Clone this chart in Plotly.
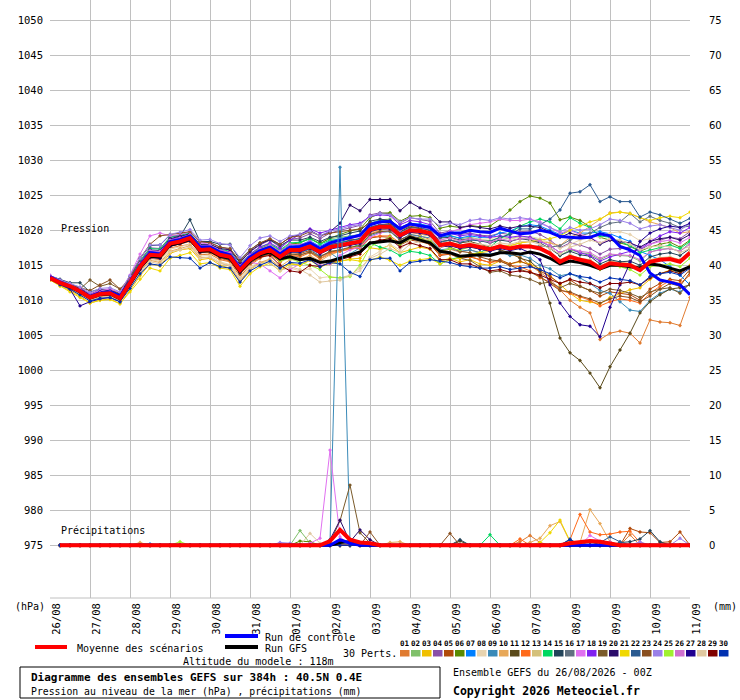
import plotly.graph_objects as go

# forecast hours, 6-hourly from 26/08 00Z out to 384h
hours = list(range(0, 385, 6))
precip_hours = hours[1:]

day_labels = ["26/08", "27/08", "28/08", "29/08", "30/08", "31/08", "01/09", "02/09",
              "03/09", "04/09", "05/09", "06/09", "07/09", "08/09", "09/09", "10/09", "11/09"]

pert_colors = ["#e07b30", "#7fc06a", "#f0c000", "#8a4fa8", "#b04a0a", "#5a8a00", "#0080ff",
               "#e8d4b0", "#3a8ab8", "#e8a858", "#5a4a1a", "#ff6a1a", "#d4c07a", "#00d860",
               "#22445a", "#607080", "#e070f0", "#8020f0", "#7a5a2a", "#2a0a6a", "#f0d800",
               "#2a5a90", "#8a5020", "#9a80e8", "#a0f030", "#d070d0", "#200090", "#e0c8a0",
               "#800000", "#0030b0"]

# sea level pressure (hPa)
mean_p = [1013.2, 1012.5, 1012.0, 1011.3, 1010.4, 1010.9, 1011.0, 1010.3, 1012.5, 1014.8, 1016.5, 1016.4, 1018.1, 1018.4, 1018.9, 1017.2,
          1017.3, 1016.5, 1016.2, 1014.3, 1015.8, 1016.7, 1017.2, 1016.2, 1017.2, 1017.2, 1017.7, 1016.9, 1017.6, 1017.9, 1018.2, 1018.4,
          1020.1, 1020.5, 1020.5, 1019.3, 1020.0, 1019.9, 1019.6, 1017.9, 1018.1, 1017.7, 1017.9, 1017.6, 1017.3, 1017.7, 1017.4, 1017.7,
          1017.7, 1017.4, 1016.7, 1015.5, 1016.2, 1015.8, 1015.5, 1014.6, 1015.3, 1015.1, 1015.0, 1014.3, 1015.5, 1015.8, 1015.9, 1015.5,
          1016.8]
control_p = [1013.4, 1012.6, 1012.0, 1011.4, 1010.5, 1011.0, 1011.2, 1010.6, 1012.7, 1015.0, 1016.8, 1016.6, 1018.4, 1018.7, 1019.2, 1017.6,
             1017.6, 1016.9, 1016.5, 1014.6, 1016.2, 1017.1, 1017.6, 1016.6, 1017.6, 1017.7, 1018.2, 1017.4, 1018.2, 1018.6, 1019.0, 1019.3,
             1020.8, 1021.2, 1021.3, 1020.2, 1020.9, 1020.6, 1020.4, 1019.2, 1019.6, 1019.6, 1020.0, 1019.8, 1019.7, 1020.3, 1019.9, 1019.5,
             1019.6, 1020.0, 1019.7, 1019.1, 1019.0, 1018.9, 1019.0, 1019.5, 1019.2, 1017.7, 1017.2, 1016.4, 1013.9, 1012.9, 1012.6, 1012.2,
             1010.8]
gfs_p = [1013.3, 1012.5, 1011.9, 1011.2, 1010.3, 1010.8, 1010.9, 1010.2, 1012.3, 1014.6, 1016.3, 1016.2, 1017.9, 1018.2, 1018.7, 1017.0,
         1017.1, 1016.3, 1016.0, 1014.1, 1015.6, 1016.5, 1016.9, 1015.9, 1016.2, 1015.8, 1016.0, 1015.4, 1015.6, 1016.0, 1016.4, 1016.9,
         1018.2, 1018.3, 1018.5, 1018.2, 1019.0, 1018.6, 1018.2, 1017.0, 1016.8, 1016.3, 1016.4, 1016.5, 1016.4, 1016.8, 1016.8, 1016.6,
         1016.9, 1016.6, 1016.0, 1015.2, 1015.6, 1015.4, 1015.0, 1014.5, 1015.0, 1015.0, 1014.8, 1014.6, 1015.2, 1015.0, 1014.6, 1014.2,
         1014.8]

p01 = [1013.0, 1012.3, 1011.6, 1010.8, 1010.0, 1010.6, 1010.8, 1010.1, 1012.0, 1014.3, 1016.0, 1015.8, 1017.5, 1017.8, 1018.0, 1016.5,
       1016.6, 1015.8, 1015.5, 1013.4, 1015.0, 1016.0, 1016.6, 1015.4, 1016.4, 1016.2, 1016.8, 1015.9, 1016.6, 1017.0, 1017.3, 1017.6,
       1019.5, 1020.0, 1020.4, 1018.6, 1019.4, 1019.2, 1018.7, 1017.0, 1017.3, 1016.9, 1017.2, 1016.8, 1016.5, 1016.9, 1016.5, 1016.2,
       1015.0, 1014.0, 1013.0, 1011.5, 1010.0, 1009.0, 1008.2, 1004.4, 1005.3, 1005.6, 1005.3, 1003.9, 1007.2, 1006.9, 1006.8, 1006.4,
       1010.4]
p02 = [1013.4, 1012.8, 1012.3, 1011.6, 1010.7, 1011.2, 1011.4, 1010.7, 1013.0, 1015.4, 1017.1, 1017.0, 1018.7, 1019.0, 1019.5, 1017.9,
       1017.9, 1017.2, 1016.9, 1015.0, 1016.5, 1017.4, 1018.0, 1017.1, 1018.0, 1018.3, 1018.9, 1018.1, 1018.8, 1019.0, 1019.2, 1019.4,
       1021.0, 1021.5, 1021.6, 1020.2, 1021.0, 1020.8, 1020.6, 1019.0, 1019.3, 1018.8, 1019.0, 1018.7, 1018.5, 1019.0, 1018.8, 1019.1,
       1019.0, 1018.6, 1017.6, 1016.4, 1017.2, 1016.8, 1016.6, 1015.8, 1016.5, 1016.4, 1016.3, 1015.6, 1016.9, 1017.3, 1017.4, 1017.0,
       1018.2]
p03 = [1012.9, 1012.1, 1011.4, 1010.6, 1009.6, 1010.0, 1010.2, 1009.5, 1011.4, 1013.5, 1015.2, 1014.9, 1016.7, 1017.2, 1017.4, 1015.8,
       1016.0, 1015.0, 1014.6, 1012.6, 1014.4, 1015.3, 1015.7, 1014.6, 1015.3, 1015.0, 1015.8, 1014.8, 1015.2, 1015.6, 1015.9, 1016.0,
       1017.5, 1017.3, 1017.9, 1016.8, 1017.2, 1017.6, 1017.3, 1015.6, 1016.0, 1015.5, 1015.8, 1015.2, 1015.0, 1015.6, 1015.2, 1015.5,
       1015.2, 1014.5, 1013.5, 1012.2, 1011.0, 1010.0, 1009.8, 1009.5, 1010.4, 1011.0, 1011.5, 1011.8, 1013.0, 1013.8, 1014.3, 1014.0,
       1015.0]
p04 = [1013.5, 1012.9, 1012.4, 1011.8, 1010.9, 1011.5, 1011.6, 1011.0, 1013.2, 1015.7, 1017.5, 1017.4, 1019.0, 1019.4, 1019.8, 1018.3,
       1018.3, 1017.6, 1017.3, 1015.4, 1016.9, 1017.9, 1018.6, 1017.6, 1018.7, 1018.9, 1019.5, 1018.8, 1019.6, 1020.0, 1020.4, 1020.7,
       1022.2, 1022.5, 1022.4, 1021.0, 1021.8, 1021.6, 1021.3, 1019.6, 1019.9, 1019.4, 1019.6, 1019.3, 1019.2, 1019.6, 1019.4, 1019.8,
       1019.9, 1019.4, 1018.6, 1017.5, 1018.2, 1017.9, 1017.4, 1016.6, 1017.3, 1017.4, 1017.6, 1017.2, 1018.0, 1018.6, 1019.0, 1018.8,
       1019.8]
p05 = [1013.1, 1012.4, 1011.9, 1011.1, 1010.2, 1010.7, 1010.9, 1010.4, 1012.2, 1014.5, 1016.2, 1016.0, 1017.8, 1018.0, 1018.5, 1016.9,
       1016.9, 1016.1, 1015.8, 1014.0, 1015.6, 1016.4, 1016.9, 1015.8, 1016.8, 1016.7, 1017.1, 1016.3, 1016.9, 1017.1, 1017.5, 1017.4,
       1018.9, 1019.1, 1019.0, 1017.9, 1018.6, 1018.4, 1018.0, 1016.4, 1016.6, 1016.0, 1016.2, 1015.8, 1015.4, 1015.8, 1015.2, 1015.6,
       1015.0, 1014.2, 1013.4, 1012.4, 1012.9, 1012.0, 1011.4, 1010.6, 1011.2, 1011.0, 1010.8, 1010.0, 1011.6, 1012.4, 1013.0, 1012.8,
       1014.4]
p06 = [1013.3, 1012.6, 1012.1, 1011.4, 1010.5, 1011.0, 1011.2, 1010.6, 1012.8, 1015.1, 1016.9, 1016.7, 1018.5, 1018.8, 1019.3, 1017.6,
       1017.7, 1017.0, 1016.8, 1014.9, 1016.4, 1017.4, 1017.9, 1017.0, 1018.0, 1018.2, 1018.8, 1018.1, 1018.9, 1019.4, 1019.9, 1020.2,
       1021.8, 1022.4, 1022.5, 1021.3, 1022.0, 1022.1, 1021.8, 1020.3, 1020.6, 1020.4, 1020.7, 1020.5, 1020.6, 1021.6, 1022.9, 1024.1,
       1024.9, 1024.6, 1023.9, 1021.5, 1021.9, 1021.4, 1020.5, 1019.0, 1018.6, 1018.2, 1017.8, 1017.0, 1017.6, 1018.0, 1018.3, 1017.6,
       1018.6]
p07 = [1013.4, 1012.7, 1012.2, 1011.5, 1010.6, 1011.2, 1011.3, 1010.7, 1012.9, 1015.2, 1016.9, 1016.9, 1018.6, 1018.9, 1019.4, 1017.8,
       1017.8, 1017.1, 1016.8, 1014.8, 1016.3, 1017.3, 1017.8, 1016.9, 1017.9, 1017.9, 1018.5, 1017.7, 1018.5, 1018.8, 1019.1, 1019.4,
       1021.0, 1021.4, 1021.4, 1020.2, 1021.0, 1020.9, 1020.6, 1019.0, 1019.2, 1018.9, 1019.2, 1019.0, 1019.0, 1019.6, 1019.9, 1020.5,
       1020.8, 1020.6, 1020.0, 1019.4, 1020.0, 1019.6, 1019.6, 1019.8, 1019.5, 1019.0, 1018.4, 1017.0, 1016.4, 1015.8, 1014.8, 1013.6,
       1012.2]
p08 = [1013.1, 1012.4, 1011.8, 1011.0, 1010.1, 1010.6, 1010.7, 1010.0, 1012.1, 1014.2, 1015.8, 1015.6, 1017.3, 1017.6, 1018.0, 1016.3,
       1016.4, 1015.5, 1015.1, 1013.3, 1014.8, 1015.4, 1015.7, 1014.4, 1014.6, 1014.2, 1014.5, 1013.2, 1013.4, 1013.2, 1013.6, 1014.2,
       1016.2, 1017.0, 1018.0, 1017.2, 1018.6, 1019.0, 1019.4, 1018.0, 1018.6, 1018.5, 1018.8, 1018.7, 1018.8, 1019.2, 1018.8, 1019.0,
       1019.1, 1018.8, 1018.2, 1017.4, 1018.0, 1018.6, 1019.2, 1019.0, 1019.6, 1019.8, 1019.4, 1018.5, 1018.8, 1018.6, 1018.0, 1017.4,
       1017.6]
p09 = [1013.2, 1012.4, 1011.9, 1011.2, 1010.3, 1010.8, 1010.8, 1010.1, 1012.3, 1014.6, 1016.2, 1016.1, 1017.8, 1018.2, 1018.6, 1016.9,
       1017.0, 1016.2, 1015.8, 1013.9, 1015.4, 1016.3, 1016.8, 1015.8, 1016.9, 1016.8, 1017.3, 1016.3, 1016.8, 1015.8, 1016.6, 1017.5,
       1019.2, 1019.7, 1019.8, 1018.6, 1019.4, 1019.2, 1018.9, 1017.2, 1017.4, 1017.0, 1017.2, 1016.8, 1016.6, 1016.9, 1016.4, 1016.5,
       1016.0, 1015.0, 1014.5, 1013.5, 1013.8, 1013.2, 1012.4, 1011.4, 1011.0, 1009.8, 1008.6, 1008.4, 1010.0, 1011.0, 1011.6, 1011.2,
       1012.4]
p10 = [1013.0, 1012.3, 1011.7, 1010.9, 1010.0, 1010.5, 1010.6, 1009.9, 1011.9, 1014.1, 1015.7, 1015.4, 1017.0, 1017.4, 1017.8, 1016.1,
       1016.1, 1015.3, 1014.9, 1012.8, 1014.5, 1015.4, 1015.9, 1014.8, 1015.8, 1015.8, 1016.4, 1015.6, 1016.5, 1017.0, 1017.5, 1017.9,
       1019.7, 1020.1, 1020.2, 1019.0, 1019.7, 1019.4, 1019.2, 1017.6, 1017.8, 1017.5, 1017.8, 1017.6, 1017.4, 1017.9, 1017.8, 1018.2,
       1018.4, 1018.4, 1018.2, 1017.8, 1019.0, 1019.6, 1020.6, 1021.6, 1022.5, 1022.6, 1022.4, 1021.8, 1021.2, 1020.8, 1020.4, 1019.6,
       1019.8]
p11 = [1013.2, 1012.6, 1012.0, 1011.4, 1010.6, 1011.1, 1011.5, 1011.0, 1012.7, 1015.0, 1016.6, 1016.5, 1018.2, 1018.6, 1019.0, 1017.4,
       1017.5, 1016.8, 1016.4, 1014.6, 1016.0, 1017.0, 1017.5, 1016.6, 1017.5, 1017.6, 1018.1, 1017.3, 1018.0, 1018.2, 1018.6, 1018.8,
       1020.4, 1020.8, 1020.9, 1019.8, 1020.5, 1020.4, 1020.0, 1018.4, 1018.6, 1018.2, 1018.4, 1018.0, 1017.6, 1017.2, 1016.8, 1016.0,
       1015.6, 1014.3, 1009.6, 1004.6, 1002.5, 1001.4, 999.6, 997.5, 1000.5, 1002.9, 1005.3, 1008.2, 1009.8, 1010.8, 1011.6, 1011.8,
       1012.2]
p12 = [1013.1, 1012.3, 1011.8, 1011.1, 1010.2, 1010.6, 1010.8, 1010.2, 1012.3, 1014.5, 1016.2, 1016.0, 1017.7, 1018.0, 1018.4, 1016.8,
       1016.8, 1016.0, 1015.6, 1013.7, 1015.2, 1016.1, 1016.6, 1015.5, 1016.5, 1016.4, 1016.9, 1016.0, 1016.8, 1017.0, 1017.4, 1017.4,
       1019.0, 1019.2, 1019.2, 1018.2, 1018.9, 1018.6, 1018.2, 1016.5, 1016.7, 1016.2, 1016.3, 1015.8, 1015.4, 1015.6, 1015.0, 1014.8,
       1014.2, 1013.2, 1012.6, 1011.5, 1011.0, 1010.4, 1010.0, 1009.2, 1009.8, 1010.2, 1010.0, 1009.6, 1011.0, 1012.0, 1012.8, 1012.4,
       1013.6]
p13 = [1013.3, 1012.6, 1012.0, 1011.3, 1010.4, 1010.9, 1011.1, 1010.5, 1012.6, 1014.9, 1016.6, 1016.4, 1018.1, 1018.5, 1019.0, 1017.3,
       1017.4, 1016.6, 1016.3, 1014.4, 1015.9, 1016.8, 1017.3, 1016.4, 1017.4, 1017.4, 1017.9, 1017.1, 1017.8, 1018.0, 1018.3, 1018.6,
       1020.2, 1020.6, 1020.7, 1019.5, 1020.2, 1020.1, 1019.8, 1018.1, 1018.3, 1017.9, 1018.1, 1017.8, 1017.5, 1017.9, 1017.6, 1017.9,
       1017.9, 1017.6, 1016.9, 1015.8, 1016.5, 1016.0, 1015.8, 1014.9, 1015.6, 1015.4, 1015.3, 1014.6, 1015.8, 1016.1, 1016.2, 1015.8,
       1017.0]
p14 = [1013.4, 1012.8, 1012.3, 1011.6, 1010.8, 1011.3, 1011.4, 1010.8, 1013.1, 1015.6, 1017.4, 1017.3, 1019.0, 1019.3, 1019.6, 1018.0,
       1018.0, 1017.3, 1017.0, 1015.1, 1016.6, 1017.6, 1018.1, 1017.2, 1018.2, 1018.3, 1018.8, 1018.0, 1018.6, 1018.6, 1018.2, 1017.6,
       1018.2, 1017.6, 1017.2, 1016.4, 1017.0, 1016.8, 1016.4, 1015.2, 1015.8, 1016.2, 1016.6, 1016.8, 1017.6, 1018.8, 1019.6, 1020.6,
       1021.2, 1021.6, 1021.2, 1020.2, 1021.8, 1021.0, 1020.4, 1019.2, 1019.0, 1018.4, 1017.8, 1016.8, 1017.2, 1017.6, 1017.9, 1017.4,
       1018.4]
p15 = [1013.5, 1013.0, 1012.5, 1012.5, 1011.2, 1011.6, 1011.4, 1010.8, 1013.4, 1016.0, 1017.8, 1017.9, 1019.3, 1019.1, 1021.5, 1018.4,
       1018.4, 1018.0, 1018.0, 1015.8, 1017.2, 1018.2, 1018.6, 1017.8, 1018.6, 1018.6, 1019.0, 1018.4, 1019.0, 1019.2, 1019.6, 1019.9,
       1021.3, 1021.6, 1021.4, 1020.4, 1021.0, 1020.7, 1020.4, 1018.9, 1019.0, 1018.6, 1018.8, 1018.5, 1018.2, 1018.6, 1018.4, 1018.8,
       1018.6, 1018.2, 1017.4, 1016.4, 1017.0, 1016.5, 1016.3, 1015.2, 1015.8, 1015.5, 1015.6, 1015.0, 1016.2, 1016.6, 1016.8, 1016.4,
       1017.4]
p16 = [1013.2, 1012.5, 1012.0, 1011.2, 1010.3, 1010.8, 1010.9, 1010.3, 1012.4, 1014.7, 1016.4, 1016.3, 1018.0, 1018.3, 1018.8, 1017.1,
       1017.2, 1016.4, 1016.1, 1014.2, 1015.7, 1016.6, 1017.1, 1016.1, 1017.1, 1017.1, 1017.6, 1016.8, 1017.5, 1017.8, 1018.1, 1018.3,
       1020.0, 1020.4, 1020.4, 1019.2, 1019.9, 1019.8, 1019.5, 1017.8, 1018.0, 1017.6, 1017.8, 1017.5, 1017.2, 1017.6, 1017.3, 1017.6,
       1017.6, 1017.8, 1017.6, 1017.8, 1018.6, 1019.2, 1019.6, 1020.4, 1021.0, 1021.2, 1022.4, 1021.2, 1022.0, 1021.4, 1021.0, 1020.4,
       1020.6]
p17 = [1013.6, 1012.8, 1012.2, 1011.6, 1010.8, 1011.4, 1011.6, 1011.1, 1013.6, 1016.6, 1019.2, 1019.6, 1019.2, 1019.4, 1019.8, 1018.2,
       1018.0, 1017.2, 1016.8, 1014.8, 1015.4, 1015.2, 1014.2, 1013.2, 1014.4, 1015.2, 1015.8, 1015.0, 1015.2, 1016.4, 1017.2, 1017.6,
       1019.0, 1019.6, 1020.0, 1019.0, 1020.0, 1020.2, 1020.2, 1019.2, 1019.8, 1020.2, 1020.8, 1021.0, 1021.2, 1021.6, 1021.4, 1021.4,
       1021.6, 1021.2, 1020.4, 1019.6, 1020.0, 1019.4, 1019.0, 1018.2, 1018.6, 1018.4, 1018.2, 1017.6, 1018.0, 1018.4, 1018.6, 1018.2,
       1019.0]
p18 = [1013.3, 1012.7, 1012.1, 1011.6, 1010.8, 1011.3, 1011.3, 1010.6, 1012.9, 1015.2, 1017.0, 1016.9, 1018.7, 1019.0, 1019.3, 1017.7,
       1017.8, 1017.1, 1016.9, 1015.0, 1016.6, 1017.6, 1018.2, 1017.4, 1018.6, 1019.4, 1020.2, 1019.6, 1020.0, 1020.4, 1020.8, 1021.0,
       1022.0, 1022.2, 1022.1, 1020.8, 1021.4, 1021.2, 1020.8, 1019.4, 1019.6, 1019.2, 1019.4, 1019.2, 1019.0, 1019.2, 1019.0, 1019.2,
       1019.0, 1018.4, 1017.8, 1016.8, 1017.4, 1016.8, 1016.4, 1015.6, 1016.2, 1016.6, 1017.0, 1017.2, 1018.4, 1019.2, 1019.8, 1019.6,
       1020.4]
p19 = [1013.2, 1012.6, 1012.0, 1011.6, 1012.9, 1012.0, 1012.4, 1011.6, 1012.8, 1014.8, 1016.3, 1016.0, 1017.7, 1018.1, 1018.5, 1016.8,
       1016.9, 1016.1, 1015.7, 1013.8, 1015.3, 1016.2, 1016.7, 1015.8, 1016.6, 1016.5, 1016.9, 1016.2, 1017.0, 1017.2, 1017.6, 1017.8,
       1019.4, 1019.8, 1019.9, 1018.7, 1019.2, 1018.9, 1018.5, 1016.8, 1016.7, 1016.0, 1015.7, 1014.8, 1014.0, 1014.2, 1013.6, 1013.4,
       1013.0, 1012.4, 1012.6, 1011.8, 1012.4, 1012.0, 1011.4, 1011.0, 1011.6, 1011.4, 1011.0, 1010.4, 1011.2, 1011.6, 1011.8, 1011.0,
       1012.4]
p20 = [1013.4, 1012.8, 1012.3, 1011.7, 1010.7, 1011.2, 1011.4, 1010.8, 1013.0, 1015.4, 1017.2, 1017.1, 1018.8, 1019.1, 1019.5, 1017.9,
       1018.0, 1017.4, 1017.2, 1015.4, 1017.0, 1018.0, 1018.7, 1018.0, 1019.0, 1019.4, 1020.0, 1019.2, 1019.8, 1021.0, 1023.6, 1022.8,
       1024.4, 1024.4, 1024.4, 1022.8, 1024.0, 1023.2, 1022.6, 1021.2, 1021.2, 1020.4, 1020.6, 1020.4, 1020.2, 1020.6, 1020.3, 1020.6,
       1020.6, 1020.4, 1019.8, 1019.0, 1019.6, 1019.2, 1019.0, 1018.0, 1018.6, 1018.4, 1018.2, 1017.6, 1018.4, 1018.8, 1019.0, 1018.6,
       1019.4]
p21 = [1012.9, 1012.0, 1011.2, 1010.4, 1009.6, 1010.0, 1010.1, 1009.5, 1011.2, 1013.0, 1014.6, 1014.2, 1016.0, 1016.4, 1016.8, 1015.2,
       1015.4, 1014.6, 1014.4, 1012.0, 1013.8, 1014.8, 1015.3, 1014.2, 1015.2, 1015.0, 1015.7, 1014.8, 1015.4, 1015.6, 1015.8, 1015.6,
       1015.7, 1016.2, 1015.7, 1015.0, 1015.6, 1015.8, 1016.0, 1015.2, 1015.8, 1016.0, 1016.6, 1016.8, 1017.0, 1017.6, 1017.8, 1018.2,
       1018.4, 1018.6, 1018.8, 1019.2, 1020.0, 1020.6, 1021.2, 1021.6, 1022.4, 1022.6, 1022.4, 1021.8, 1021.4, 1021.8, 1022.0, 1021.8,
       1022.6]
p22 = [1013.3, 1012.6, 1012.1, 1011.4, 1010.6, 1011.1, 1011.2, 1010.5, 1012.7, 1015.0, 1016.7, 1016.6, 1018.3, 1018.6, 1019.1, 1017.4,
       1017.5, 1016.7, 1016.4, 1014.5, 1016.0, 1016.9, 1017.4, 1016.5, 1017.5, 1017.5, 1018.0, 1017.2, 1017.9, 1018.2, 1018.5, 1018.8,
       1020.5, 1020.8, 1020.9, 1019.7, 1020.4, 1020.3, 1020.0, 1018.3, 1018.6, 1018.3, 1018.6, 1018.5, 1018.4, 1019.0, 1019.4, 1020.2,
       1020.2, 1020.8, 1021.6, 1022.9, 1025.3, 1025.5, 1026.5, 1024.1, 1024.8, 1024.1, 1024.1, 1021.9, 1022.6, 1022.2, 1021.6, 1021.0,
       1021.7]
p23 = [1013.3, 1012.7, 1012.2, 1011.8, 1011.4, 1012.2, 1012.9, 1011.6, 1013.2, 1016.0, 1018.0, 1019.2, 1019.4, 1019.6, 1019.8, 1018.4,
       1018.2, 1017.6, 1017.4, 1015.6, 1017.2, 1018.2, 1018.8, 1018.0, 1019.0, 1019.2, 1019.8, 1019.2, 1019.6, 1019.8, 1020.0, 1020.2,
       1021.0, 1021.2, 1021.0, 1020.0, 1020.6, 1020.2, 1019.6, 1017.8, 1017.6, 1017.0, 1016.8, 1016.2, 1015.8, 1015.6, 1015.0, 1014.4,
       1014.0, 1013.4, 1012.4, 1011.4, 1011.2, 1010.6, 1010.2, 1009.6, 1010.2, 1010.6, 1010.4, 1009.8, 1010.6, 1011.6, 1012.4, 1012.0,
       1014.0]
p24 = [1013.5, 1012.9, 1012.4, 1011.9, 1011.1, 1011.7, 1011.8, 1011.2, 1013.5, 1016.0, 1017.9, 1017.9, 1019.4, 1019.7, 1020.1, 1018.6,
       1018.7, 1018.1, 1017.9, 1016.1, 1017.8, 1018.9, 1019.2, 1018.4, 1019.2, 1019.4, 1019.9, 1019.2, 1019.9, 1020.2, 1020.6, 1020.8,
       1022.0, 1022.4, 1022.2, 1021.2, 1021.8, 1021.6, 1021.6, 1020.6, 1021.0, 1020.8, 1021.4, 1021.6, 1021.4, 1021.8, 1021.6, 1021.8,
       1021.6, 1021.0, 1020.4, 1019.8, 1020.4, 1020.0, 1020.2, 1020.8, 1021.6, 1021.4, 1021.0, 1020.2, 1020.6, 1020.8, 1020.4, 1020.0,
       1021.0]
p25 = [1013.2, 1012.5, 1011.9, 1011.1, 1010.2, 1010.8, 1010.9, 1010.2, 1012.3, 1014.6, 1016.4, 1016.3, 1018.0, 1018.4, 1018.9, 1017.4,
       1017.6, 1016.8, 1016.5, 1014.6, 1016.0, 1016.6, 1016.8, 1015.6, 1016.0, 1015.4, 1015.0, 1014.4, 1013.3, 1013.2, 1013.4, 1015.0,
       1017.6, 1018.4, 1019.0, 1018.0, 1018.8, 1018.8, 1018.6, 1017.0, 1017.4, 1017.2, 1017.6, 1017.4, 1017.2, 1017.6, 1017.4, 1017.8,
       1017.8, 1017.4, 1016.6, 1015.4, 1016.2, 1015.6, 1015.2, 1014.4, 1015.0, 1014.8, 1014.4, 1013.6, 1014.8, 1015.0, 1015.2, 1014.8,
       1016.0]
p26 = [1013.4, 1012.7, 1012.2, 1011.5, 1010.6, 1011.1, 1011.3, 1010.7, 1012.9, 1015.3, 1017.1, 1017.0, 1018.6, 1018.9, 1019.4, 1017.8,
       1017.9, 1017.1, 1016.8, 1014.9, 1016.4, 1017.3, 1017.9, 1017.0, 1018.0, 1017.9, 1018.4, 1017.6, 1018.3, 1018.6, 1018.9, 1019.1,
       1020.7, 1021.1, 1021.2, 1020.0, 1020.8, 1020.6, 1020.3, 1018.6, 1018.9, 1018.5, 1018.8, 1018.6, 1018.3, 1018.8, 1018.5, 1018.8,
       1018.8, 1018.5, 1017.8, 1016.8, 1017.4, 1017.0, 1016.8, 1016.0, 1016.6, 1016.5, 1016.4, 1015.8, 1016.9, 1017.2, 1017.4, 1017.0,
       1018.0]
p27 = [1013.2, 1012.4, 1011.6, 1009.2, 1009.8, 1010.2, 1010.4, 1009.8, 1012.0, 1014.4, 1016.1, 1016.0, 1017.7, 1018.1, 1018.5, 1016.9,
       1017.0, 1016.2, 1015.9, 1014.0, 1015.5, 1016.4, 1016.9, 1015.9, 1016.9, 1016.9, 1017.4, 1016.6, 1017.3, 1017.6, 1017.9, 1018.1,
       1019.8, 1020.2, 1020.2, 1019.0, 1019.7, 1019.6, 1019.3, 1017.6, 1017.8, 1017.4, 1017.6, 1017.3, 1017.0, 1017.4, 1017.1, 1017.4,
       1016.8, 1015.8, 1012.2, 1009.6, 1007.7, 1006.5, 1006.3, 1004.8, 1009.0, 1012.2, 1015.4, 1018.4, 1019.6, 1020.2, 1020.6, 1020.4,
       1021.0]
p28 = [1013.1, 1012.3, 1011.7, 1010.9, 1010.0, 1010.4, 1010.6, 1009.9, 1011.8, 1013.9, 1015.5, 1015.2, 1016.9, 1017.2, 1017.6, 1016.0,
       1016.2, 1015.3, 1015.0, 1013.1, 1014.6, 1015.2, 1015.4, 1014.2, 1014.8, 1014.4, 1013.6, 1012.6, 1012.8, 1012.9, 1013.6, 1014.6,
       1016.0, 1016.6, 1017.4, 1016.8, 1018.0, 1018.4, 1018.8, 1017.6, 1018.0, 1017.8, 1018.2, 1018.0, 1017.8, 1018.2, 1018.0, 1018.4,
       1018.4, 1018.0, 1017.4, 1016.6, 1017.6, 1018.0, 1018.6, 1018.2, 1018.8, 1018.6, 1018.0, 1017.2, 1017.6, 1017.8, 1017.6, 1016.8,
       1017.4]
p29 = [1013.3, 1012.6, 1012.0, 1011.3, 1010.4, 1010.9, 1011.0, 1010.4, 1012.5, 1014.7, 1016.3, 1016.2, 1017.9, 1018.2, 1018.7, 1017.0,
       1017.1, 1016.3, 1016.0, 1014.1, 1015.6, 1016.2, 1016.4, 1015.0, 1014.2, 1014.0, 1015.0, 1014.8, 1015.4, 1015.8, 1016.2, 1016.6,
       1018.2, 1018.6, 1018.8, 1017.6, 1018.2, 1017.8, 1017.4, 1015.8, 1015.8, 1015.2, 1015.2, 1014.6, 1014.2, 1014.4, 1014.0, 1014.2,
       1014.0, 1013.6, 1013.0, 1012.4, 1013.0, 1012.6, 1012.4, 1011.8, 1012.4, 1012.4, 1012.6, 1012.2, 1013.2, 1013.8, 1014.2, 1013.8,
       1014.8]
p30 = [1013.0, 1012.2, 1011.6, 1010.8, 1009.9, 1010.3, 1010.4, 1009.8, 1011.7, 1013.8, 1015.2, 1015.0, 1016.2, 1016.1, 1016.0, 1014.6,
       1015.4, 1014.8, 1014.6, 1012.6, 1014.2, 1015.0, 1015.6, 1014.6, 1015.4, 1015.3, 1015.8, 1014.8, 1015.4, 1015.2, 1014.0, 1013.4,
       1015.8, 1016.0, 1016.0, 1014.2, 1015.4, 1015.6, 1015.8, 1015.6, 1015.4, 1015.0, 1014.8, 1014.6, 1014.6, 1014.8, 1014.4, 1014.6,
       1014.8, 1014.4, 1013.8, 1013.2, 1013.8, 1013.4, 1013.2, 1012.6, 1013.2, 1013.0, 1012.8, 1012.2, 1013.4, 1013.8, 1014.0, 1013.6,
       1014.6]

perts_p = [p01, p02, p03, p04, p05, p06, p07, p08, p09, p10, p11, p12, p13, p14, p15,
           p16, p17, p18, p19, p20, p21, p22, p23, p24, p25, p26, p27, p28, p29, p30]

# precipitation (mm), forecast hour -> value; hours not listed read as 0
r01 = {282: 0.5, 288: 1.4, 294: 0.4, 348: 1.5}
r02 = {150: 2.1, 156: 0.3, 324: 0.6}
r03 = {}
r04 = {}
r05 = {348: 2.4, 354: 1.9, 360: 1.8, 366: 0.4, 372: 0.5, 378: 1.9}
r06 = {150: 0.6, 156: 0.5}
r07 = {54: 0.2, 60: 0.2}
r08 = {}
r09 = {168: 0.5, 174: 54.0, 180: 0.6}
r10 = {54: 0.4, 204: 0.4, 210: 0.5, 288: 0.4, 294: 1.0, 300: 2.8, 306: 3.4, 312: 0.5, 318: 0.4, 324: 5.1, 330: 3.1, 336: 0.5}
r11 = {246: 0.6}
r12 = {282: 0.9, 312: 0.8, 318: 4.4, 324: 1.9, 330: 1.5, 336: 1.6, 342: 1.9, 348: 2.0, 354: 0.4}
r13 = {}
r14 = {264: 1.5}
r15 = {246: 0.8, 342: 0.4, 348: 0.5, 354: 0.9, 360: 2.1, 366: 0.5}
r16 = {}
r17 = {156: 0.3, 162: 1.0, 168: 13.6, 174: 1.2, 324: 1.4, 330: 0.6}
r18 = {}
r19 = {168: 0.4, 174: 3.5, 180: 8.6, 186: 1.8, 192: 0.3}
r20 = {168: 0.8, 174: 3.6, 180: 0.5, 186: 2.2, 192: 0.8}
r21 = {294: 0.4, 300: 1.8, 306: 3.6, 312: 0.6}
r22 = {312: 0.9, 330: 0.4, 336: 1.2, 342: 0.5}
r23 = {192: 1.9, 240: 1.7}
r24 = {138: 0.4, 144: 0.3, 354: 0.5, 378: 1.0}
r25 = {78: 0.5}
r26 = {336: 0.5}
r27 = {}
r28 = {156: 1.7, 162: 0.3}
r29 = {}
r30 = {312: 0.8}
mean_r = {168: 0.6, 174: 2.2, 180: 0.8, 186: 0.4, 192: 0.3, 312: 0.3, 318: 0.5, 324: 0.6, 330: 0.5, 336: 0.3}
control_r = {174: 0.8, 180: 0.3}
gfs_r = {174: 0.4, 180: 0.5}

perts_r = [r01, r02, r03, r04, r05, r06, r07, r08, r09, r10, r11, r12, r13, r14, r15,
           r16, r17, r18, r19, r20, r21, r22, r23, r24, r25, r26, r27, r28, r29, r30]

for s in perts_p + [mean_p, control_p, gfs_p]:
    assert len(s) == len(hours), len(s)

P_BOT, P_TOP = 967.47, 1052.9
MONO = "DejaVu Sans Mono"


def rain(d):
    return [d.get(h, 0.0) for h in precip_hours]


def px(x):
    return (x - 50) / 640


def py(y):
    return (598 - y) / 598


fig = go.Figure()

for k, (series, col) in enumerate(zip(perts_p, pert_colors)):
    fig.add_trace(go.Scatter(x=hours, y=series, mode="lines+markers", name="%02d" % (k + 1),
                             line=dict(color=col, width=1), marker=dict(color=col, size=3, symbol="diamond")))
for k, (d, col) in enumerate(zip(perts_r, pert_colors)):
    fig.add_trace(go.Scatter(x=precip_hours, y=rain(d), yaxis="y2", mode="lines+markers", name="%02d" % (k + 1),
                             line=dict(color=col, width=1), marker=dict(color=col, size=3, symbol="diamond")))

for series, d, col, w in [(gfs_p, gfs_r, "#000000", 3), (control_p, control_r, "#0000ff", 3),
                          (mean_p, mean_r, "#ff0000", 4)]:
    fig.add_trace(go.Scatter(x=hours, y=series, mode="lines", line=dict(color=col, width=w)))
    fig.add_trace(go.Scatter(x=precip_hours, y=rain(d), yaxis="y2", mode="lines", line=dict(color=col, width=w)))

fig.update_layout(
    width=740, height=700,
    margin=dict(l=50, r=50, t=0, b=102),
    paper_bgcolor="white", plot_bgcolor="white",
    showlegend=False,
    font=dict(family=MONO, size=10, color="black"),
    xaxis=dict(range=[0, 384], tickvals=list(range(0, 385, 24)), ticktext=day_labels,
               tickangle=-90, showgrid=True, gridcolor="#c0c0c0", gridwidth=1, zeroline=False,
               ticks="", ticklabelshift=7, ticklabelstandoff=2, tickfont=dict(family=MONO, size=10.5)),
    yaxis=dict(range=[P_BOT, P_TOP], tickvals=list(range(975, 1051, 5)), showgrid=True,
               gridcolor="#c0c0c0", gridwidth=1, zeroline=False, ticks="", ticklabelstandoff=6,
               tickfont=dict(family=MONO, size=10.5)),
    yaxis2=dict(range=[P_BOT - 975, P_TOP - 975], tickvals=list(range(0, 76, 5)), overlaying="y",
                side="right", showgrid=False, zeroline=False, ticks="", ticklabelstandoff=18,
                tickfont=dict(family="DejaVu Sans", size=10)),
)

shapes = [
    dict(type="line", xref="paper", yref="paper", x0=0, x1=1, y0=0, y1=0, line=dict(color="#c0c0c0", width=1)),
    dict(type="line", xref="paper", yref="paper", x0=px(35), x1=px(67), y0=py(647), y1=py(647), line=dict(color="#ff0000", width=4)),
    dict(type="line", xref="paper", yref="paper", x0=px(225), x1=px(258), y0=py(636), y1=py(636), line=dict(color="#0000ff", width=4)),
    dict(type="line", xref="paper", yref="paper", x0=px(225), x1=px(258), y0=py(647), y1=py(647), line=dict(color="#000000", width=4)),
    dict(type="rect", xref="paper", yref="paper", x0=px(20), x1=px(440), y0=py(667), y1=py(698), line=dict(color="black", width=1)),
]
annots = []
for k, col in enumerate(pert_colors):
    x0 = 400 + 11 * k
    shapes.append(dict(type="rect", xref="paper", yref="paper", x0=px(x0), x1=px(x0 + 9.5),
                       y0=py(656.5), y1=py(650), fillcolor=col, line=dict(width=0)))
    annots.append(dict(text="<b>%02d</b>" % (k + 1), x=px(x0 + 4.75), y=py(643), font=dict(family=MONO, size=7.5)))


def label(text, x, y, size=10, anchor="left"):
    annots.append(dict(text=text, x=px(x), y=py(y), xanchor=anchor, font=dict(family=MONO, size=size)))


label("Pression", 59, 229)
label("Précipitations", 59, 530)
label("(hPa)", 13, 606)
label("(mm)", 711, 606)
label("Moyenne des scénarios", 75, 648)
label("Run de contrôle", 263, 637)
label("Run GFS", 263, 648)
label("30 Perts.", 341, 653)
label("Altitude du modele : 118m", 181, 661)
label("<b>Diagramme des ensembles GEFS sur 384h : 40.5N 0.4E</b>", 29, 677, size=11)
label("Pression au niveau de la mer (hPa) , précipitations (mm)", 29, 691, size=9.8)
label("Ensemble GEFS du 26/08/2026 - 00Z", 451, 672)
label("<b>Copyright 2026 Meteociel.fr</b>", 451, 691, size=11.5)

for a in annots:
    a.update(xref="paper", yref="paper", showarrow=False, yanchor="middle")
    a.setdefault("xanchor", "center")

fig.update_layout(shapes=shapes, annotations=annots)
# the page body has an 8px default margin; drop it so the figure sits at the window corner
fig.write_html("out.html", config={"displayModeBar": False},
               post_script="document.body.style.margin='0';document.body.style.overflow='hidden';")
